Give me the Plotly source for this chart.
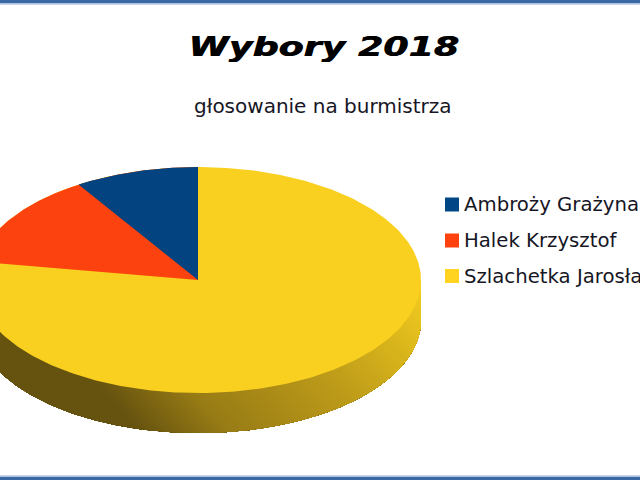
import numpy as np
import plotly.graph_objects as go

title = "Wybory 2018"
subtitle = "głosowanie na burmistrza"
candidates = ["Ambroży Grażyna", "Halek Krzysztof", "Szlachetka Jarosław"]
votes = [9.0, 13.4, 77.6]
colors = ["#03437F", "#FC420F", "#F9D01F"]
legend_colors = ["#004586", "#FF420E", "#FFD320"]

W, H = 640, 480
CX, CY, RX, RY, DEPTH = 198, 280, 223, 113, 40
ux = lambda px: (np.asarray(px, float) - CX) / RX
uy = lambda py: (CY - np.asarray(py, float)) / RY

fig = go.Figure()

def add_poly(x, y, color):
    fig.add_trace(go.Scatter(x=list(x), y=list(y), mode="lines", fill="toself",
                             fillcolor=color, line=dict(width=0), hoverinfo="skip",
                             showlegend=False))

# ---- side wall: painter's bands over the silhouette
d = DEPTH / RY
th = np.linspace(np.pi, 2 * np.pi, 241)
sx = np.concatenate([np.cos(th), [1, -1]])
sy = np.concatenate([np.sin(th) - d, [0, 0]])
SLOPE = 0.9
def tval(x, y):
    return (CX + RX * x) - SLOPE * ((CY - RY * y) - 400)

def clip(x, y, t0):
    ox, oy = [], []
    n = len(x)
    for i in range(n):
        a, b = (x[i], y[i]), (x[(i + 1) % n], y[(i + 1) % n])
        ta, tb = tval(*a) - t0, tval(*b) - t0
        if ta >= 0:
            ox.append(a[0]); oy.append(a[1])
        if ta * tb < 0:
            f = ta / (ta - tb)
            ox.append(a[0] + f * (b[0] - a[0])); oy.append(a[1] + f * (b[1] - a[1]))
    return ox, oy

stops_t = [110, 200, 350, 440, 520]
stops_c = np.array([[0x66, 0x53, 0x10], [0x98, 0x7C, 0x16], [0xBE, 0x9C, 0x1A],
                    [0xD8, 0xB4, 0x1C], [0xF2, 0xCB, 0x1F]], float)
for t0 in np.arange(-60, 530, 3):
    px, py = clip(sx, sy, t0)
    if len(px) < 3:
        continue
    rgb = [np.interp(t0 + 1.5, stops_t, stops_c[:, k]) for k in range(3)]
    add_poly(px, py, "rgb(%d,%d,%d)" % tuple(rgb))

# ---- top face, counter-clockwise from 12 o'clock; painted last slice first so
# neighbouring slices overlap and no background shows through at the joins
cum = np.cumsum(votes) / sum(votes) * 2 * np.pi
for i in reversed(range(len(candidates))):
    a = np.linspace(0, cum[i], 400)
    add_poly(np.concatenate([[0], -np.sin(a), [0]]),
             np.concatenate([[0], np.cos(a), [0]]), colors[i])

# ---- legend swatches
LEG_Y = [204.5, 240.5, 276]
fig.add_trace(go.Scatter(x=ux([452] * 3), y=uy(LEG_Y), mode="markers",
                         marker=dict(symbol="square", size=14, color=legend_colors, line=dict(width=0)),
                         hoverinfo="skip", showlegend=False))
annotations = [dict(x=461.5 / W, y=1 - yy / H, xref="paper", yref="paper", xanchor="left", yanchor="middle",
                    text=name, showarrow=False, align="left",
                    font=dict(family="DejaVu Sans", size=19.7, color="#161625"))
               for name, yy in zip(candidates, LEG_Y)]
annotations.append(dict(x=323.5 / W, y=1 - 47 / H, xref="paper", yref="paper", xanchor="center", yanchor="middle",
                        text="<b><i>%s</i></b>" % title, showarrow=False,
                        font=dict(family="DejaVu Sans", size=26, color="#000000",
                                  shadow="0.8px 0 0 #000")))
annotations.append(dict(x=322.5 / W, y=1 - 106 / H, xref="paper", yref="paper", xanchor="center", yanchor="middle",
                        text=subtitle, showarrow=False,
                        font=dict(family="DejaVu Sans", size=20, color="#161625")))

shapes = []
for y0, y1, c in [(0, 3.5, "#3A67A5"), (3.5, 5, "#C5D3E6"), (476.5, 480, "#3A67A5"), (475, 476.5, "#C5D3E6")]:
    shapes.append(dict(type="rect", xref="paper", yref="paper", x0=0, x1=1,
                       y0=1 - y1 / H, y1=1 - y0 / H, fillcolor=c, line=dict(width=0), layer="above"))

fig.update_layout(
    width=W, height=H, margin=dict(l=0, r=0, t=0, b=0),
    paper_bgcolor="white", plot_bgcolor="white", showlegend=False,
    xaxis=dict(range=[float(ux(0)), float(ux(W))], visible=False, fixedrange=True),
    yaxis=dict(range=[float(uy(H)), float(uy(0))], visible=False, fixedrange=True),
    annotations=annotations, shapes=shapes,
)
# page margin off; the title face is an extended heavy italic, so widen it
post = """
document.body.style.margin='0';
document.documentElement.style.overflow='hidden';
document.querySelectorAll('.annotation-text').forEach(function(t){
  if(t.textContent.indexOf('Wybory')===0){
    t.style.transformBox='fill-box';
    t.style.transformOrigin='center';
    t.style.transform='scaleX(1.4)';
  }
});
"""
fig.write_html("out.html", post_script=post, config=dict(displayModeBar=False, staticPlot=True))
